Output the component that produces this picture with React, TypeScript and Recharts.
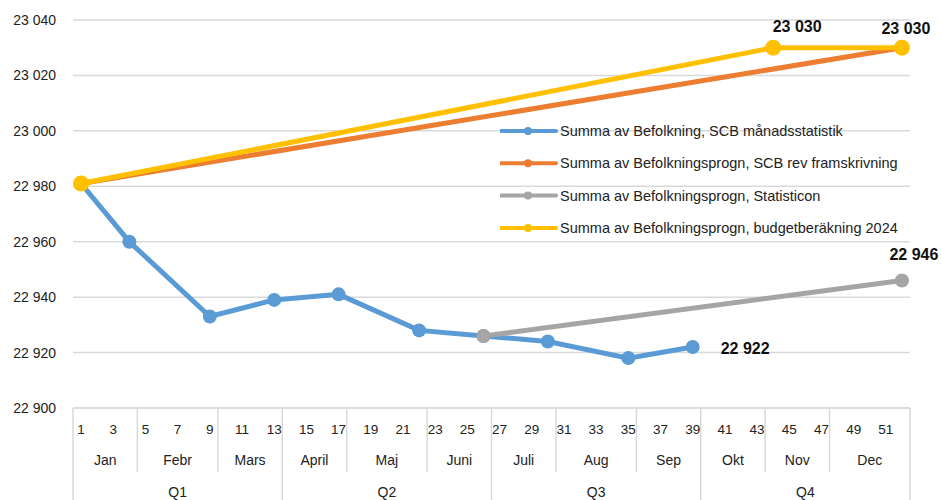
import React from 'react';
import { LineChart, Line, XAxis, YAxis, CartesianGrid, Legend } from 'recharts';

// weeks on the category axis
const weeks = [
  1, 2, 3, 4, 5, 6, 7, 8, 9, 10, 11, 12, 13, 14, 15, 16, 17, 18, 19, 20, 21, 22, 23, 24, 25, 26,
  27, 28, 29, 30, 31, 32, 33, 34, 35, 36, 37, 38, 39, 40, 41, 42, 43, 44, 45, 46, 47, 48, 49, 50, 51, 52,
];
const monthNames = ['Jan', 'Febr', 'Mars', 'April', 'Maj', 'Juni', 'Juli', 'Aug', 'Sep', 'Okt', 'Nov', 'Dec'];
const monthLastWeek = [4, 9, 13, 17, 22, 26, 30, 35, 39, 43, 47, 52];
const quarterNames = ['Q1', 'Q2', 'Q3', 'Q4'];
const quarterLastWeek = [13, 26, 39, 52];

// series
const scbWeeks = [1, 4, 9, 13, 17, 22, 26, 30, 35, 39];
const scbValues = [22981, 22960, 22933, 22939, 22941, 22928, 22926, 22924, 22918, 22922];
const scbRevWeeks = [1, 52];
const scbRevValues = [22981, 23030];
const statisticonWeeks = [26, 52];
const statisticonValues = [22926, 22946];
const budgetWeeks = [1, 44, 52];
const budgetValues = [22981, 23030, 23030];

const yTicks = [22900, 22920, 22940, 22960, 22980, 23000, 23020, 23040];

const pick = (ws: number[], vs: number[], w: number) => {
  const i = ws.indexOf(w);
  return i >= 0 ? vs[i] : null;
};

const data = weeks.map((w) => ({
  week: w,
  scb: pick(scbWeeks, scbValues, w),
  scbRev: pick(scbRevWeeks, scbRevValues, w),
  statisticon: pick(statisticonWeeks, statisticonValues, w),
  budget: pick(budgetWeeks, budgetValues, w),
}));

const fmt = (v: number) => String(v).replace(/\B(?=(\d{3})+(?!\d))/g, ' ');

const FONT = '"Liberation Sans", Arial, sans-serif';
const TEXT = '#222';
const GRID = '#d9d9d9';
const W = 941;
const H = 500;
const M = { top: 20, right: 31, left: 0, bottom: 0 };
const Y_W = 73;
const X_H = 92;
const PLOT_W = W - M.left - M.right - Y_W;

// where the data labels sit relative to their point
const labelSpots: Record<string, Record<number, { dx: number; dy: number; anchor: string }>> = {
  scb: { 39: { dx: 28, dy: 7, anchor: 'start' } },
  statisticon: { 52: { dx: 12, dy: -21, anchor: 'middle' } },
  budget: {
    44: { dx: 24, dy: -16, anchor: 'middle' },
    52: { dx: 4, dy: -14, anchor: 'middle' },
  },
};

const valueLabel = (series: string) => (props: any) => {
  const { x, y, value, index } = props;
  const spot = labelSpots[series]?.[weeks[index]];
  if (!spot || value == null || x == null || y == null) return null;
  return (
    <text
      key={`${series}-${index}`}
      x={x + spot.dx}
      y={y + spot.dy}
      textAnchor={spot.anchor}
      fontFamily={FONT}
      fontSize={16}
      fontWeight="bold"
      fill="#111"
    >
      {fmt(value)}
    </text>
  );
};

const WeekTick = (props: any) => {
  const { x, y, payload } = props;
  const w = payload.value as number;
  const half = payload.offset ?? PLOT_W / weeks.length / 2;
  const band = half * 2;
  const left = x - half;
  const parts: React.ReactNode[] = [];

  if (w % 2 === 1) {
    parts.push(
      <text key="w" x={x} y={y + 26} textAnchor="middle" fontSize={13.5} fontFamily={FONT} fill={TEXT}>
        {w}
      </text>
    );
  }

  const mi = monthLastWeek.findIndex((last) => w <= last);
  const mFirst = mi === 0 ? 1 : monthLastWeek[mi - 1] + 1;
  const qi = quarterLastWeek.findIndex((last) => w <= last);
  const qFirst = qi === 0 ? 1 : quarterLastWeek[qi - 1] + 1;

  if (w === mFirst) {
    parts.push(
      <line key="ml" x1={left} x2={left} y1={y} y2={w === qFirst ? y + X_H : y + 64} stroke={GRID} strokeWidth={1.5} />
    );
    const n = monthLastWeek[mi] - mFirst + 1;
    parts.push(
      <text key="m" x={left + (n * band) / 2} y={y + 57} textAnchor="middle" fontSize={14} fontFamily={FONT} fill={TEXT}>
        {monthNames[mi]}
      </text>
    );
  }
  if (w === qFirst) {
    const n = quarterLastWeek[qi] - qFirst + 1;
    parts.push(
      <text key="q" x={left + (n * band) / 2} y={y + 89} textAnchor="middle" fontSize={14} fontFamily={FONT} fill={TEXT}>
        {quarterNames[qi]}
      </text>
    );
  }
  if (w === weeks[weeks.length - 1]) {
    parts.push(<line key="end" x1={x + half} x2={x + half} y1={y} y2={y + X_H} stroke={GRID} strokeWidth={1.5} />);
  }
  return <g>{parts}</g>;
};

const YTick = (props: any) => {
  const { x, y, payload } = props;
  return (
    <text x={x} y={y + 5} textAnchor="end" fontSize={14} fontFamily={FONT} fill={TEXT}>
      {fmt(payload.value)}
    </text>
  );
};

const LegendBox = (props: any) => {
  const { payload } = props;
  return (
    <svg width={420} height={132} style={{ display: 'block' }}>
      {(payload || []).map((p: any, i: number) => {
        const cy = 16 + i * 32.3;
        return (
          <g key={p.value}>
            <line x1={0} x2={56} y1={cy} y2={cy} stroke={p.color} strokeWidth={4} strokeLinecap="round" />
            <circle cx={28} cy={cy} r={4} fill={p.color} />
            <text x={60} y={cy + 5} fontSize={14.5} fontFamily={FONT} fill={TEXT}>
              {p.value}
            </text>
          </g>
        );
      })}
    </svg>
  );
};

export default function App() {
  return (
    <div style={{ position: 'absolute', left: 0, top: 0, width: W, height: H, background: '#fff' }}>
      <LineChart width={W} height={H} data={data} margin={M}>
        <CartesianGrid vertical={false} stroke={GRID} strokeWidth={1.5} />
        <XAxis
          dataKey="week"
          scale="band"
          interval={0}
          height={X_H}
          tickLine={false}
          tickSize={0}
          tickMargin={0}
          axisLine={{ stroke: GRID, strokeWidth: 1.5 }}
          tick={<WeekTick />}
        />
        <YAxis
          width={Y_W}
          domain={[22900, 23040]}
          ticks={yTicks}
          axisLine={false}
          tickLine={false}
          tickMargin={11}
          tick={<YTick />}
          allowDataOverflow
        />
        <Legend
          layout="horizontal"
          verticalAlign="middle"
          align="center"
          content={<LegendBox />}
          wrapperStyle={{ position: 'absolute', left: 500, top: 115, width: 420, height: 132 }}
        />
        <Line
          name="Summa av Befolkning, SCB månadsstatistik"
          dataKey="scb"
          stroke="#5B9BD5"
          strokeWidth={5}
          dot={{ r: 7, fill: '#5B9BD5', stroke: 'none' }}
          connectNulls
          isAnimationActive={false}
          label={valueLabel('scb')}
        />
        <Line
          name="Summa av Befolkningsprogn, SCB rev framskrivning"
          dataKey="scbRev"
          stroke="#ED7D31"
          strokeWidth={5}
          dot={{ r: 7, fill: '#ED7D31', stroke: 'none' }}
          connectNulls
          isAnimationActive={false}
        />
        <Line
          name="Summa av Befolkningsprogn, Statisticon"
          dataKey="statisticon"
          stroke="#A5A5A5"
          strokeWidth={5}
          dot={{ r: 7, fill: '#A5A5A5', stroke: 'none' }}
          connectNulls
          isAnimationActive={false}
          label={valueLabel('statisticon')}
        />
        <Line
          name="Summa av Befolkningsprogn, budgetberäkning 2024"
          dataKey="budget"
          stroke="#FFC000"
          strokeWidth={5}
          dot={{ r: 8, fill: '#FFC000', stroke: 'none' }}
          connectNulls
          isAnimationActive={false}
          label={valueLabel('budget')}
        />
      </LineChart>
    </div>
  );
}
